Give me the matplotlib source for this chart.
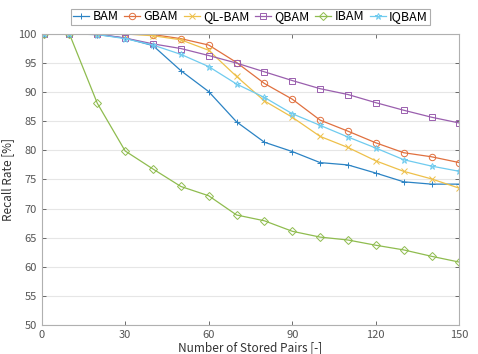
import matplotlib.pyplot as plt

plt.rcParams['font.family'] = ['Noto Sans CJK JP', 'DejaVu Sans']

pairs = [1, 10, 20, 30, 40, 50, 60, 70, 80, 90, 100, 110, 120, 130, 140, 150]

bam = [100, 100, 99.9, 99.3, 98.0, 93.7, 90.1, 84.9, 81.4, 79.8, 77.9, 77.5, 76.1, 74.6, 74.2, 74.2]
gbam = [100, 100, 100, 100, 99.9, 99.2, 98.1, 95.1, 91.5, 88.8, 85.2, 83.3, 81.3, 79.6, 78.9, 77.9]
qlbam = [100, 100, 100, 100, 99.7, 99.0, 97.2, 92.7, 88.5, 85.7, 82.4, 80.5, 78.2, 76.4, 75.1, 73.5]
qbam = [100, 100, 100, 99.3, 98.3, 97.5, 96.3, 95.0, 93.5, 92.0, 90.6, 89.6, 88.2, 86.9, 85.7, 84.7]
ibam = [100, 100, 88.1, 79.9, 76.8, 73.8, 72.2, 68.9, 67.9, 66.1, 65.1, 64.6, 63.7, 62.9, 61.8, 60.8]
iqbam = [100, 100, 99.9, 99.2, 98.1, 96.5, 94.4, 91.4, 89.1, 86.3, 84.3, 82.3, 80.4, 78.4, 77.3, 76.4]

series = [
    ("BAM", bam, "#2b83c4", "+"),
    ("GBAM", gbam, "#e0703f", "o"),
    ("QL-BAM", qlbam, "#eec04a", "x"),
    ("QBAM", qbam, "#9a5fae", "s"),
    ("IBAM", ibam, "#8fbc4f", "D"),
    ("IQBAM", iqbam, "#6fcbef", "*"),
]

fig = plt.figure(figsize=(4.78, 3.54), dpi=100)
ax = fig.add_axes([0.087, 0.082, 0.874, 0.822])

for name, vals, col, mk in series:
    ms = 3.8 if mk == "D" else 4.6
    ax.plot(pairs, vals, color=col, marker=mk, markersize=ms, linewidth=0.9,
            markerfacecolor="none", markeredgewidth=0.7, label=name)

ax.set_xlim(0, 150)
ax.set_ylim(50, 100)
ax.set_xticks(range(0, 151, 30))
ax.set_yticks(range(50, 101, 5))
ax.yaxis.grid(True, color="#e6e6e6", linewidth=0.8)
ax.set_axisbelow(True)
ax.tick_params(direction="in", top=True, right=True, labelsize=8,
               colors="#555555", length=3, width=0.6)
for sp in ax.spines.values():
    sp.set_color("#b0b0b0")
    sp.set_linewidth(0.8)

ax.set_xlabel("Number of Stored Pairs [-]", fontsize=8.5, color="#333333", labelpad=1)
ax.set_ylabel("Recall Rate [%]", fontsize=8.5, color="#333333", labelpad=3)

leg = ax.legend(loc="lower center", bbox_to_anchor=(0.5, 1.03), ncol=6,
                fontsize=9, frameon=True, fancybox=False, handlelength=1.3,
                handletextpad=0.25, columnspacing=0.45, borderpad=0.15,
                borderaxespad=0)
leg.get_frame().set_edgecolor("#999999")
leg.get_frame().set_linewidth(0.8)

fig.savefig("out.png", dpi=100)
